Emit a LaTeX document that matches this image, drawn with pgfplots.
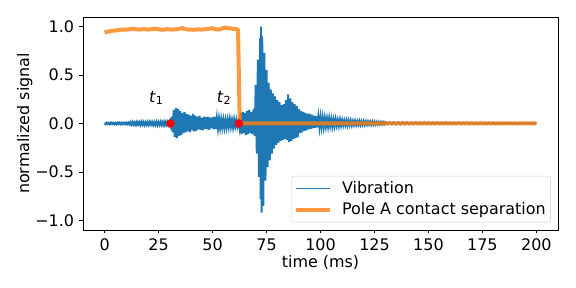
\documentclass[border=0pt]{standalone}
\usepackage{fontspec}
\setmainfont{DejaVu Sans}
\usepackage{pgfplots}
\pgfplotsset{compat=1.18}
\definecolor{mplblue}{HTML}{1F77B4}
\definecolor{mplorange}{HTML}{FF7F0E}
\newcommand{\fs}{\fontsize{16}{19}\selectfont}
\begin{document}
\fs
\begin{tikzpicture}
\path[use as bounding box] (0,0) rectangle (576bp,288bp);
\begin{axis}[
 at={(83bp,58bp)}, anchor=south west,
 scale only axis, width=475bp, height=213bp,
 xmin=-10, xmax=210, ymin=-1.1, ymax=1.1,
 xtick={0,25,50,75,100,125,150,175,200},
 xticklabels={0,25,50,75,100,125,150,175,200},
 ytick={-1,-0.5,0,0.5,1},
 yticklabels={−1.0,−0.5,0.0,0.5,1.0},
 tick align=outside, tick pos=left, major tick length=3.5bp,
 tick style={black, line width=0.8bp},
 axis line style={line width=0.8bp},
 ticklabel style={font=\fs},
 xlabel={time (ms)}, ylabel={normalized signal},
 label style={font=\fs},
 xlabel style={yshift=7bp},
 ylabel style={yshift=-8bp},
 legend cell align=left,
 legend image code/.code={\draw[#1] (0bp,0bp) -- (34bp,0bp); \path (39bp,0bp);},
 legend style={at={(axis description cs:0.985,0.036)}, anchor=south east,
   draw=black!20, rounded corners=2bp, fill=white, font=\fs, row sep=3bp,
   column sep=3bp, inner xsep=3bp, inner ysep=3bp},
]
\addplot[mplblue, line width=2bp, legend image post style={line width=1.7bp}] coordinates {
(0,0.006) (0.5,-0.007) (1,0.008) (1.5,-0.006) (2,0.007) (2.5,-0.008) (3,0.009) (3.5,-0.006)
(4,0.007) (4.5,-0.008) (5,0.006) (5.5,-0.007) (6,0.008) (6.5,-0.006) (7,0.009) (7.5,-0.008)
(8,0.007) (8.5,-0.008) (9,0.008) (9.5,-0.007) (10,0.009) (10.5,-0.008) (11,0.009) (11.5,-0.01)
(12,0.013) (12.5,-0.012) (13,0.016) (13.5,-0.013) (14,0.012) (14.5,-0.015) (15,0.017) (15.5,-0.012)
(16,0.014) (16.5,-0.016) (17,0.018) (17.5,-0.013) (18,0.015) (18.5,-0.017) (19,0.013) (19.5,-0.014)
(20,0.016) (20.5,-0.015) (21,0.018) (21.5,-0.013) (22,0.015) (22.5,-0.017) (23,0.014) (23.5,-0.016)
(24,0.017) (24.5,-0.019) (25,0.015) (25.5,-0.014) (26,0.018) (26.5,-0.016) (27,0.016) (27.5,-0.018)
(28,0.019) (28.5,-0.015) (29,0.017) (29.5,-0.016) (30,0.018) (30.5,-0.02) (31,0.07) (31.5,-0.09)
(32,0.14) (32.5,-0.14) (33,0.16) (33.5,-0.15) (34,0.15) (34.5,-0.13) (35,0.13) (35.5,-0.12)
(36,0.11) (36.5,-0.10) (37,0.12) (37.5,-0.09) (38,0.10) (38.5,-0.08) (39,0.09) (39.5,-0.09)
(40,0.08) (40.5,-0.07) (41,0.10) (41.5,-0.08) (42,0.08) (42.5,-0.075) (43,0.07) (43.5,-0.06)
(44,0.08) (44.5,-0.065) (45,0.06) (45.5,-0.07) (46,0.07) (46.5,-0.055) (47,0.065) (47.5,-0.06)
(48,0.07) (48.5,-0.065) (49,0.06) (49.5,-0.05) (50,0.065) (50.5,-0.06) (51,0.07) (51.5,-0.055)
(52,0.055) (52.5,-0.05) (53,0.05) (53.5,-0.045) (54,0.045) (54.5,-0.04) (55,0.04) (55.5,-0.045)
(56,0.035) (56.5,-0.04) (57,0.04) (57.5,-0.035) (58,0.045) (58.5,-0.035) (59,0.035) (59.5,-0.04)
(60,0.04) (60.5,-0.03) (61,0.035) (61.5,-0.03) (62,0.02) (62.5,-0.05) (63,0.11) (63.5,-0.11)
(64,0.12) (64.5,-0.10) (65,0.11) (65.5,-0.12) (66,0.13) (66.5,-0.11) (67,0.14) (67.5,-0.10)
(68,0.12) (68.5,-0.11) (69,0.15) (69.5,-0.13) (70,0.40) (70.5,-0.31) (71,0.66) (71.5,-0.55)
(72,0.88) (72.25,-0.78) (72.5,1.0) (72.75,-0.92) (73,0.90) (73.5,-0.85) (74,0.73) (74.5,-0.59)
(75,0.55) (75.5,-0.45) (76,0.42) (76.5,-0.38) (77,0.35) (77.5,-0.31) (78,0.31) (78.5,-0.26)
(79,0.28) (79.5,-0.22) (80,0.24) (80.5,-0.20) (81,0.22) (81.5,-0.18) (82,0.19) (82.5,-0.17)
(83,0.20) (83.5,-0.16) (84,0.24) (84.5,-0.17) (85,0.30) (85.5,-0.19) (86,0.26) (86.5,-0.18)
(87,0.22) (87.5,-0.16) (88,0.20) (88.5,-0.15) (89,0.18) (89.5,-0.14) (90,0.15) (90.5,-0.10)
(91,0.13) (91.5,-0.09) (92,0.12) (92.5,-0.075) (93,0.11) (93.5,-0.07) (94,0.10) (94.5,-0.06)
(95,0.10) (95.5,-0.055) (96,0.09) (96.5,-0.05) (97,0.08) (97.5,-0.045) (98,0.075) (98.5,-0.04)
(99,0.07) (99.5,-0.04) (100,0.065) (100.5,-0.035) (101,0.06) (101.5,-0.035) (102,0.055) (102.5,-0.03)
(103,0.05) (103.5,-0.03) (104,0.055) (104.5,-0.025) (105,0.045) (105.5,-0.03) (106,0.04) (106.5,-0.025)
(107,0.045) (107.5,-0.02) (108,0.035) (108.5,-0.025) (109,0.04) (109.5,-0.02) (110,0.035) (110.5,-0.02)
(111,0.03) (111.5,-0.018) (112,0.032) (112.5,-0.02) (113,0.028) (113.5,-0.015) (114,0.03) (114.5,-0.018)
(115,0.025) (115.5,-0.015) (116,0.027) (116.5,-0.016) (117,0.023) (117.5,-0.014) (118,0.025) (118.5,-0.015)
(119,0.022) (119.5,-0.012) (120,0.024) (120.5,-0.014) (121,0.02) (121.5,-0.012) (122,0.022) (122.5,-0.01)
(123,0.019) (123.5,-0.012) (124,0.02) (124.5,-0.01) (125,0.018) (125.5,-0.01) (126,0.016) (126.5,-0.009)
(127,0.015) (127.5,-0.009) (128,0.016) (128.5,-0.009) (129,0.014) (129.5,-0.008) (130,0.014)
(131,-0.008) (132,0.013) (133,-0.007) (134,0.012) (135,-0.008) (136,0.012) (137,-0.007)
(138,0.013) (139,-0.006) (140,0.012) (141,-0.007) (142,0.011) (143,-0.006) (144,0.012) (145,-0.006)
(146,0.011) (147,-0.006) (148,0.012) (149,-0.006) (150,0.011) (151,-0.006) (152,0.01) (153,-0.006)
(154,0.011) (155,-0.005) (156,0.01) (157,-0.005) (158,0.011) (159,-0.005) (160,0.01) (161,-0.005)
(162,0.009) (163,-0.005) (164,0.01) (165,-0.005) (166,0.009) (167,-0.005) (168,0.01) (169,-0.005)
(170,0.009) (171,-0.005) (172,0.008) (173,-0.005) (174,0.009) (175,-0.004) (176,0.008) (177,-0.005)
(178,0.009) (179,-0.004) (180,0.008) (181,-0.005) (182,0.008) (183,-0.004) (184,0.008) (185,-0.004)
(186,0.007) (187,-0.004) (188,0.008) (189,-0.004) (190,0.007) (191,-0.004) (192,0.007) (193,-0.004)
(194,0.007) (195,-0.004) (196,0.007) (197,-0.004) (198,0.006) (199,-0.004) (200,0.006)
};
\addlegendentry{Vibration}
\addplot[mplorange, draw opacity=0.8, line width=4bp, line join=round, legend image post style={line width=3.3bp}] coordinates {
(0,0.94) (1,0.945) (2,0.95) (3,0.955) (4,0.96) (5,0.96) (6,0.965) (7,0.965) (8,0.97) (10,0.97)
(12,0.975) (13,0.98) (14,0.975) (16,0.97) (18,0.975) (20,0.97) (22,0.975) (24,0.98) (25,0.972)
(27,0.968) (29,0.975) (31,0.97) (33,0.972) (35,0.98) (36,0.985) (37,0.975) (39,0.97) (41,0.968)
(43,0.972) (45,0.97) (47,0.975) (49,0.98) (50,0.985) (51,0.975) (53,0.97) (55,0.985) (56,0.99)
(57,0.985) (59,0.98) (61,0.975) (61.8,0.97) (62.2,0.5) (62.6,0.005) (63.5,0) (80,0.002) (100,0)
(120,0.001) (140,0) (160,0.001) (180,0) (200,0)
};
\addlegendentry{Pole A contact separation}
\addplot[only marks, mark=*, mark size=4bp, color=red, mark options={draw=red, fill=red}, forget plot] coordinates {(30.5,0) (62.2,0)};
\node[font=\fs] at (axis cs:24,0.264) {\textit{t}\textsubscript{1}};
\node[font=\fs] at (axis cs:55.3,0.264) {\textit{t}\textsubscript{2}};
\end{axis}
\end{tikzpicture}
\end{document}
